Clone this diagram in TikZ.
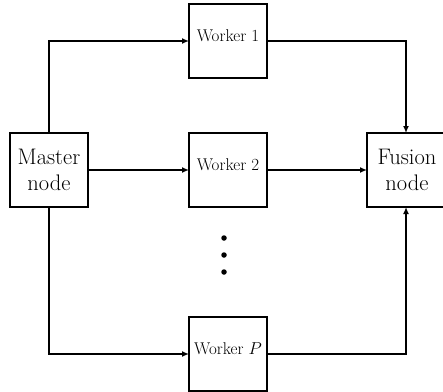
\documentclass[tikz,border=0pt]{standalone}
\usetikzlibrary{arrows.meta}
\begin{document}
\begin{tikzpicture}[x=1pt,y=-1pt,
  box/.style={draw, line width=1.6pt, minimum width=78pt, minimum height=74pt, inner sep=0pt, outer sep=0pt},
  conn/.style={line width=1.6pt, -{Latex[length=7pt,width=6pt]}},
  wlab/.style={font=\fontsize{17}{20}\selectfont, anchor=base, inner sep=0pt},
  blab/.style={font=\fontsize{22.5}{26}\selectfont, align=center, inner sep=0pt},
  dot/.style={circle, fill, inner sep=0pt, minimum size=5.5pt}]
\useasboundingbox (0,0) rectangle (443,391);
\node[box, minimum width=78pt] (master) at (49,170) {};
\node[box] (w1) at (228,41) {};
\node[box] (w2) at (228,170) {};
\node[box] (wP) at (228,354) {};
\node[box, minimum width=80pt] (fusion) at (407,170) {};
\node[blab] (mlab) at (master.center) {Master\\node};
\node[blab] (flab) at (fusion.center) {Fusion\\node};
\node[wlab] (l1) at (w1.center) {Worker 1};
\node[wlab] (l2) at (w2.center) {Worker 2};
\node[wlab] (lP) at (wP.center) {Worker $P$};
\node[dot] (d1) at (224,238) {};
\node[dot] (d2) at (224,255) {};
\node[dot] (d3) at (224,272) {};
\draw[conn] (master.north) |- (w1.west);
\draw[conn] (master.east) -- (w2.west);
\draw[conn] (master.south) |- (wP.west);
\draw[conn] (w1.east) -| ([xshift=-1pt]fusion.north);
\draw[conn] (w2.east) -- (fusion.west);
\draw[conn] (wP.east) -| ([xshift=-1pt]fusion.south);
\end{tikzpicture}
\end{document}
